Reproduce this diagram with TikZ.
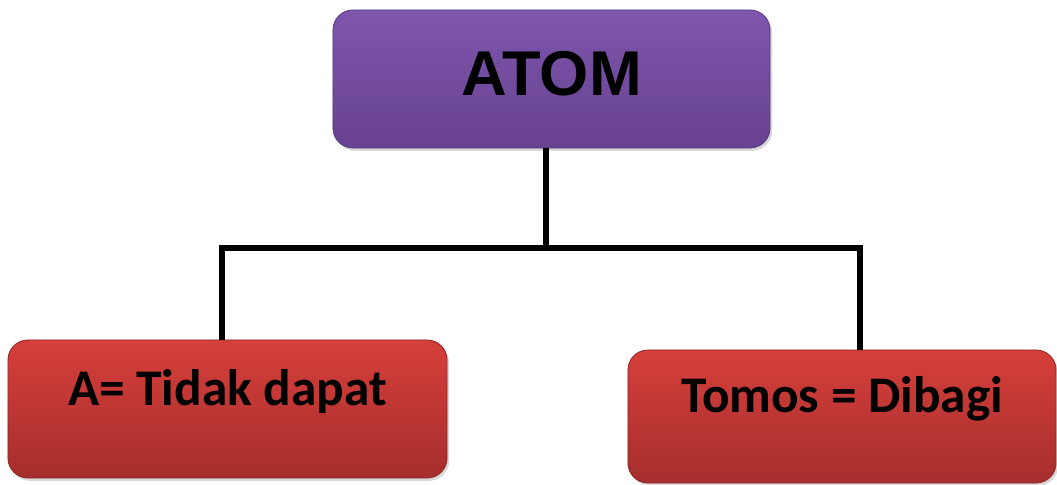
\documentclass[tikz,border=0pt]{standalone}
\usepackage{fontspec}
\setmainfont{Carlito}
\newfontfamily\arialbold{Liberation Sans}[BoldFont={Liberation Sans Bold}]
\usetikzlibrary{shadows}
\definecolor{atomtop}{HTML}{7E56AD}
\definecolor{atombot}{HTML}{67428F}
\definecolor{atomedge}{HTML}{5A3A7E}
\definecolor{redtop}{HTML}{D63F3B}
\definecolor{redbot}{HTML}{A52E2C}
\definecolor{rededge}{HTML}{8E2826}
\tikzset{
  box/.style={rounded corners=0.5cm, inner sep=0pt, outer sep=0pt,
    line width=0.6pt, drop shadow={shadow xshift=1.5pt, shadow yshift=-2pt, opacity=0.3}},
  atombox/.style={box, draw=atomedge, top color=atomtop, bottom color=atombot,
    minimum width=10.925cm, minimum height=3.45cm,
    text height=1.25cm, text depth=0.45cm,
    font=\arialbold\bfseries\fontsize{45}{48}\selectfont},
  partbox/.style={box, draw=rededge, top color=redtop, bottom color=redbot,
    text height=0.9cm, text depth=1.1cm,
    font=\bfseries\fontsize{36.5}{40}\selectfont},
  link/.style={line width=4.5pt, black}
}
\begin{document}
\begin{tikzpicture}[x=0.025cm, y=-0.025cm]
                \useasboundingbox (0,0) rectangle (1057,485);
                \coordinate (bar) at (546,248);
                \coordinate (lj) at (222,248);
                \coordinate (rj) at (860,248);
                % boxes
                \node[atombox] (atom) at (551.5,79) {ATOM};
                \node[partbox, minimum width=10.975cm, minimum height=3.45cm] (tidak) at (227.5,409) {A= Tidak dapat};
                \node[partbox, minimum width=10.7cm, minimum height=3.325cm] (tomos) at (842,416.5) {Tomos = Dibagi};
                % connectors
                \draw[link] (atom.south -| bar) -- (bar);
                \draw[link] (tidak.north -| lj) -- (lj) -- (rj) -- (tomos.north -| rj);
            \end{tikzpicture}
\end{document}
